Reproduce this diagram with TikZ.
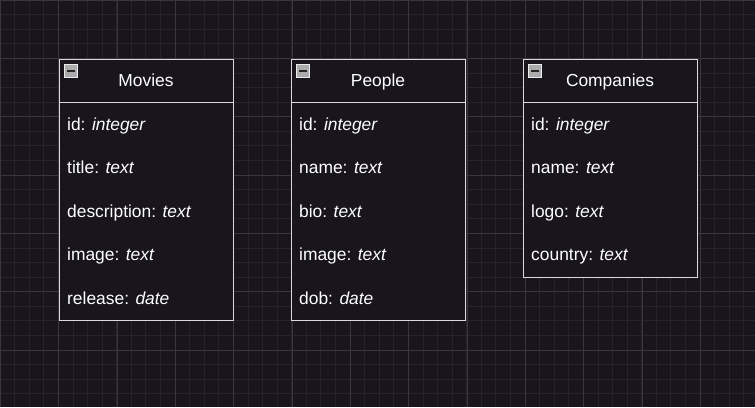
\documentclass[tikz,border=0pt]{standalone}
\usepackage{fontspec}
\setmainfont{Liberation Sans}
\definecolor{bgc}{HTML}{18151D}
\definecolor{minorc}{HTML}{27232C}
\definecolor{majorc}{HTML}{3A3640}
\definecolor{linec}{HTML}{DADADA}
\definecolor{txtc}{HTML}{FFFFFF}
\tikzset{
  tablebox/.style={draw=linec, line width=1.3pt, fill=bgc, anchor=north west, minimum width=174pt, inner sep=0pt},
  divider/.style={draw=linec, line width=1.3pt},
  titletext/.style={text=txtc, inner sep=0pt, anchor=base, font=\fontsize{17.4}{20}\selectfont},
  rowtext/.style={text=txtc, inner sep=0pt, anchor=base west, font=\fontsize{17.4}{20}\selectfont},
  iconbox/.style={draw=white!85!gray, fill=gray!65!white, minimum size=12.5pt, inner sep=0pt, line width=0.8pt},
  iconbar/.style={draw=black!85, line width=1.6pt},
  minorline/.style={draw=minorc, line width=0.8pt},
  majorline/.style={draw=majorc, line width=0.9pt}
}
\begin{document}
\begin{tikzpicture}[x=1pt,y=-1pt]
\fill[bgc] (0,0) rectangle (755,407);
\useasboundingbox (0,0) rectangle (755,407);
% grid
\foreach \i in {0,...,52}{\draw[minorline] ({\i*14.583},0) -- ({\i*14.583},407);}
\foreach \j in {0,...,28}{\draw[minorline] (0,{\j*14.583}) -- (755,{\j*14.583});}
\foreach \i in {0,...,13}{\draw[majorline] ({\i*58.333+0.5},0) -- ({\i*58.333+0.5},407);}
\foreach \j in {0,...,7}{\draw[majorline] (0,{\j*58.333}) -- (755,{\j*58.333});}

% Movies
\node[tablebox, minimum height=261pt] (movies) at (59,59) {};
\coordinate (mdl) at (59,102.5); \coordinate (mdr) at (233,102.5);
\draw[divider] (mdl) -- (mdr);
\node[iconbox] (micon) at (71,71) {};
\draw[iconbar] ([xshift=-4pt]micon.center) -- ([xshift=4pt]micon.center);
\node[titletext] (mtitle) at (146,86.3) {Movies};
\node[rowtext] (m1) at (67,130) {id: \textit{integer}};
\node[rowtext] (m2) at (67,173.5) {title: \textit{text}};
\node[rowtext] (m3) at (67,217) {description: \textit{text}};
\node[rowtext] (m4) at (67,260.5) {image: \textit{text}};
\node[rowtext] (m5) at (67,304) {release: \textit{date}};

% People
\node[tablebox, minimum height=261pt] (people) at (291,59) {};
\coordinate (pdl) at (291,102.5); \coordinate (pdr) at (465,102.5);
\draw[divider] (pdl) -- (pdr);
\node[iconbox] (picon) at (303,71) {};
\draw[iconbar] ([xshift=-4pt]picon.center) -- ([xshift=4pt]picon.center);
\node[titletext] (ptitle) at (378,86.3) {People};
\node[rowtext] (p1) at (299,130) {id: \textit{integer}};
\node[rowtext] (p2) at (299,173.5) {name: \textit{text}};
\node[rowtext] (p3) at (299,217) {bio: \textit{text}};
\node[rowtext] (p4) at (299,260.5) {image: \textit{text}};
\node[rowtext] (p5) at (299,304) {dob: \textit{date}};

% Companies
\node[tablebox, minimum height=217.5pt] (companies) at (523,59) {};
\coordinate (cdl) at (523,102.5); \coordinate (cdr) at (697,102.5);
\draw[divider] (cdl) -- (cdr);
\node[iconbox] (cicon) at (535,71) {};
\draw[iconbar] ([xshift=-4pt]cicon.center) -- ([xshift=4pt]cicon.center);
\node[titletext] (ctitle) at (610,86.3) {Companies};
\node[rowtext] (c1) at (531,130) {id: \textit{integer}};
\node[rowtext] (c2) at (531,173.5) {name: \textit{text}};
\node[rowtext] (c3) at (531,217) {logo: \textit{text}};
\node[rowtext] (c4) at (531,260.5) {country: \textit{text}};
\end{tikzpicture}
\end{document}
